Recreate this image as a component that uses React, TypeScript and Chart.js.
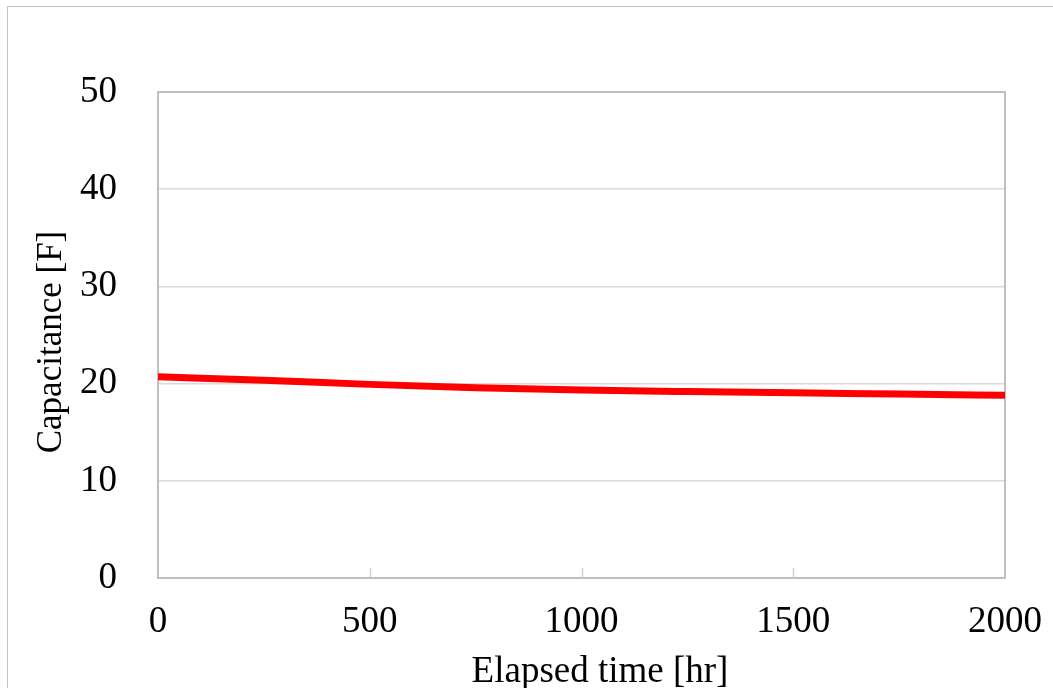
import React, { useEffect, useRef } from "react";
import { Chart, registerables } from "chart.js";

Chart.register(...registerables);

const elapsedHours = [0, 250, 500, 750, 1000, 1250, 1500, 1750, 2000];
const capacitanceF = [20.7, 20.35, 19.92, 19.57, 19.34, 19.18, 19.05, 18.93, 18.8];
const xTickMarks = [500, 1000, 1500];
const xTitle = "Elapsed time [hr]";
const yTitle = "Capacitance [F]";

const FONT = "'Liberation Serif', 'Times New Roman', serif";

const decor = {
  id: "decor",
  beforeDatasetsDraw(chart: any) {
    const { ctx, chartArea: a, scales } = chart;
    const x = scales.x;
    ctx.save();
    ctx.strokeStyle = "#d0d0d0";
    ctx.lineWidth = 1.5;
    for (const v of xTickMarks) {
      const px = Math.round(x.getPixelForValue(v)) + 0.5;
      ctx.beginPath();
      ctx.moveTo(px, a.bottom);
      ctx.lineTo(px, a.bottom - 10);
      ctx.stroke();
    }
    ctx.strokeStyle = "#bfbfbf";
    ctx.lineWidth = 2;
    ctx.strokeRect(a.left, a.top, a.right - a.left, a.bottom - a.top);
    ctx.restore();
  },
  afterDraw(chart: any) {
    const { ctx, chartArea: a } = chart;
    ctx.save();
    ctx.fillStyle = "#000";
    ctx.textAlign = "center";
    ctx.textBaseline = "alphabetic";
    ctx.font = `37px ${FONT}`;
    ctx.fillText(xTitle, 600, 682);
    ctx.font = `35px ${FONT}`;
    ctx.translate(61, (a.top + a.bottom) / 2 + 7);
    ctx.rotate(-Math.PI / 2);
    ctx.fillText(yTitle, 0, 0);
    ctx.restore();
  },
};

export default function App() {
  const ref = useRef<HTMLCanvasElement>(null);
  useEffect(() => {
    if (!ref.current) return;
    const chart = new Chart(ref.current, {
      type: "line",
      data: {
        datasets: [
          {
            data: elapsedHours.map((t, i) => ({ x: t, y: capacitanceF[i] })),
            borderColor: "#ff0000",
            borderWidth: 7,
            pointRadius: 0,
            cubicInterpolationMode: "monotone",
            fill: false,
          },
        ],
      },
      options: {
        animation: false,
        responsive: false,
        events: [],
        layout: { padding: { left: 0, top: 92, right: 48, bottom: 0 } },
        plugins: { legend: { display: false }, tooltip: { enabled: false } },
        scales: {
          x: {
            type: "linear",
            min: 0,
            max: 2000,
            afterFit(scale: any) {
              scale.height = 110;
              scale.paddingLeft = 0;
              scale.paddingRight = 0;
            },
            ticks: {
              stepSize: 500,
              color: "#000",
              padding: 22,
              maxRotation: 0,
              font: { family: FONT, size: 37 },
              callback: (v: any) => String(v),
            },
            grid: { display: false, drawTicks: false },
            border: { display: false },
          },
          y: {
            min: 0,
            max: 50,
            afterFit(scale: any) {
              scale.width = 158;
              scale.paddingTop = 0;
              scale.paddingBottom = 0;
            },
            ticks: {
              stepSize: 10,
              color: "#000",
              padding: 41,
              font: { family: FONT, size: 37 },
              callback: (v: any) => String(v),
            },
            grid: { color: "#d9d9d9", lineWidth: 1.5, drawTicks: false },
            border: { display: false },
          },
        },
      },
      plugins: [decor],
    } as any);
    return () => chart.destroy();
  }, []);
  return (
    <div
      style={{
        position: "fixed",
        left: 0,
        top: 0,
        width: 1053,
        height: 688,
        overflow: "hidden",
        background: "#fff",
      }}
    >
      <div
        style={{
          position: "absolute",
          left: 7,
          top: 6,
          width: 1200,
          height: 800,
          border: "1px solid #c4c4c4",
        }}
      />
      <canvas
        ref={ref}
        width={1053}
        height={688}
        style={{ position: "absolute", left: 0, top: 0, width: 1053, height: 688 }}
      />
    </div>
  );
}
